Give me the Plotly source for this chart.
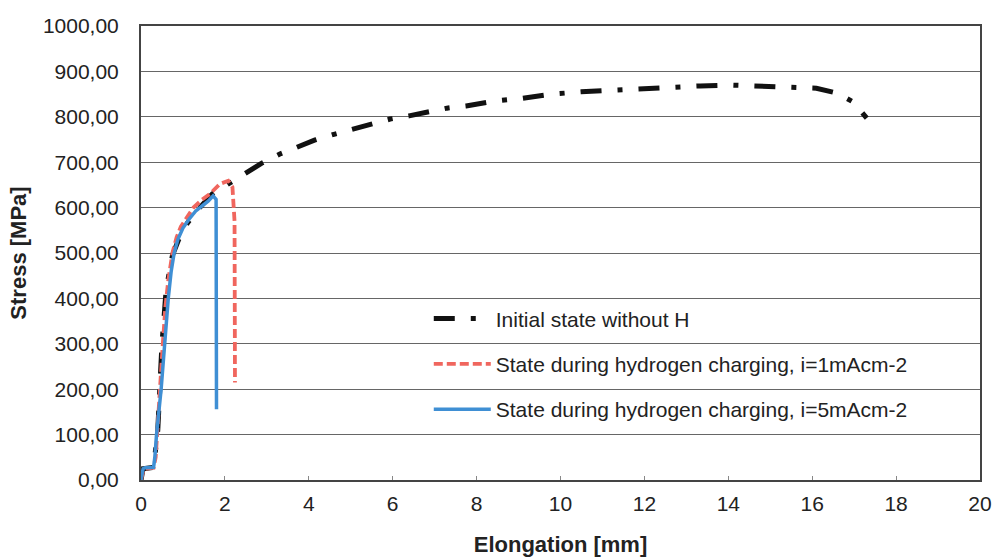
import plotly.graph_objects as go

# Data
x_initial = [0, 0.05, 0.3, 0.4, 0.5, 0.6, 0.75, 0.9, 1.1, 1.4, 1.7, 2.12, 2.53, 2.88, 3.31, 3.74,
             4.15, 4.62, 5.1, 5.94, 6.39, 7.29, 7.75, 8.44, 9.1, 9.8, 10.49, 11.23, 11.94, 12.66,
             13.33, 14.04, 14.7, 15.4, 16.1, 16.6, 16.97, 17.3]
y_initial = [0, 25, 28, 110, 300, 420, 495, 530, 565, 600, 630, 654, 678, 698, 718, 733,
             749, 762, 775, 795, 802, 819, 824, 835, 841, 850, 855, 859, 863, 866,
             868, 870, 868, 866, 863, 852, 833, 797]

x_1mA = [0, 0.05, 0.1, 0.3, 0.35, 0.4, 0.46, 0.52, 0.58, 0.65, 0.75, 0.85, 0.95, 1.1, 1.25,
         1.45, 1.64, 1.88, 2.08, 2.18, 2.23, 2.24]
y_1mA = [0, 20, 25, 27, 50, 115, 210, 300, 380, 440, 500, 535, 558, 580, 600,
         617, 630, 652, 659, 645, 570, 215]

x_5mA = [0, 0.05, 0.1, 0.3, 0.33, 0.37, 0.48, 0.56, 0.65, 0.72, 0.79, 0.88, 1.0, 1.15,
         1.3, 1.45, 1.6, 1.72, 1.79, 1.8]
y_5mA = [0, 25, 27, 28, 50, 100, 200, 300, 400, 460, 500, 530, 555, 575,
         592, 603, 614, 626, 618, 156]

names = ["Initial state without H",
         "State during hydrogen charging, i=1mAcm-2",
         "State during hydrogen charging, i=5mAcm-2"]

y_tickvals = [0, 100, 200, 300, 400, 500, 600, 700, 800, 900, 1000]
y_ticktext = ["0,00", "100,00", "200,00", "300,00", "400,00", "500,00",
              "600,00", "700,00", "800,00", "900,00", "1000,00"]
x_tickvals = [0, 2, 4, 6, 8, 10, 12, 14, 16, 18, 20]

fig = go.Figure()
fig.add_trace(go.Scatter(x=x_initial, y=y_initial, mode="lines", name=names[0],
                         legendgroup="a",
                         line=dict(color="#111111", width=5, dash="21px,16px,5px,16px")))
fig.add_trace(go.Scatter(x=x_1mA, y=y_1mA, mode="lines", name=names[1],
                         legendgroup="b",
                         line=dict(color="#f0665e", width=3.8, dash="9px,4px")))
fig.add_trace(go.Scatter(x=x_5mA, y=y_5mA, mode="lines", name=names[2],
                         legendgroup="c",
                         line=dict(color="#3f8fd4", width=3.5)))

fig.update_layout(
    width=997, height=557,
    margin=dict(l=141, r=17, t=26, b=77),
    paper_bgcolor="white", plot_bgcolor="white",
    font=dict(family="Liberation Sans, Arial, sans-serif", size=21, color="#222222"),
    legend=dict(x=0.343, y=0.40, xanchor="left", yanchor="top",
                bgcolor="rgba(0,0,0,0)", tracegroupgap=15, itemwidth=57,
                font=dict(size=21, color="#222222")),
    showlegend=True,
)
fig.update_xaxes(range=[0, 20], tickvals=x_tickvals, showgrid=False, zeroline=False,
                 showline=True, linecolor="#444444", linewidth=2, mirror=True,
                 ticks="inside", ticklen=4, tickcolor="#888888", automargin=False,
                 ticklabelstandoff=4,
                 title=dict(text="<b>Elongation [mm]</b>", font=dict(size=22), standoff=24),
                 tickfont=dict(size=21))
fig.update_yaxes(range=[0, 1000], tickvals=y_tickvals, ticktext=y_ticktext,
                 showgrid=True, gridcolor="#666666", gridwidth=1, zeroline=False,
                 showline=True, linecolor="#444444", linewidth=2, mirror=True,
                 ticks="", automargin=False, ticklabelstandoff=16,
                 title=dict(text="<b>Stress [MPa]</b>", font=dict(size=22), standoff=10),
                 tickfont=dict(size=21))

# remove the default 8px page margin so the figure fills the window exactly
fig.write_html("out.html", config={"displayModeBar": False},
               post_script="document.body.style.margin='0';")
